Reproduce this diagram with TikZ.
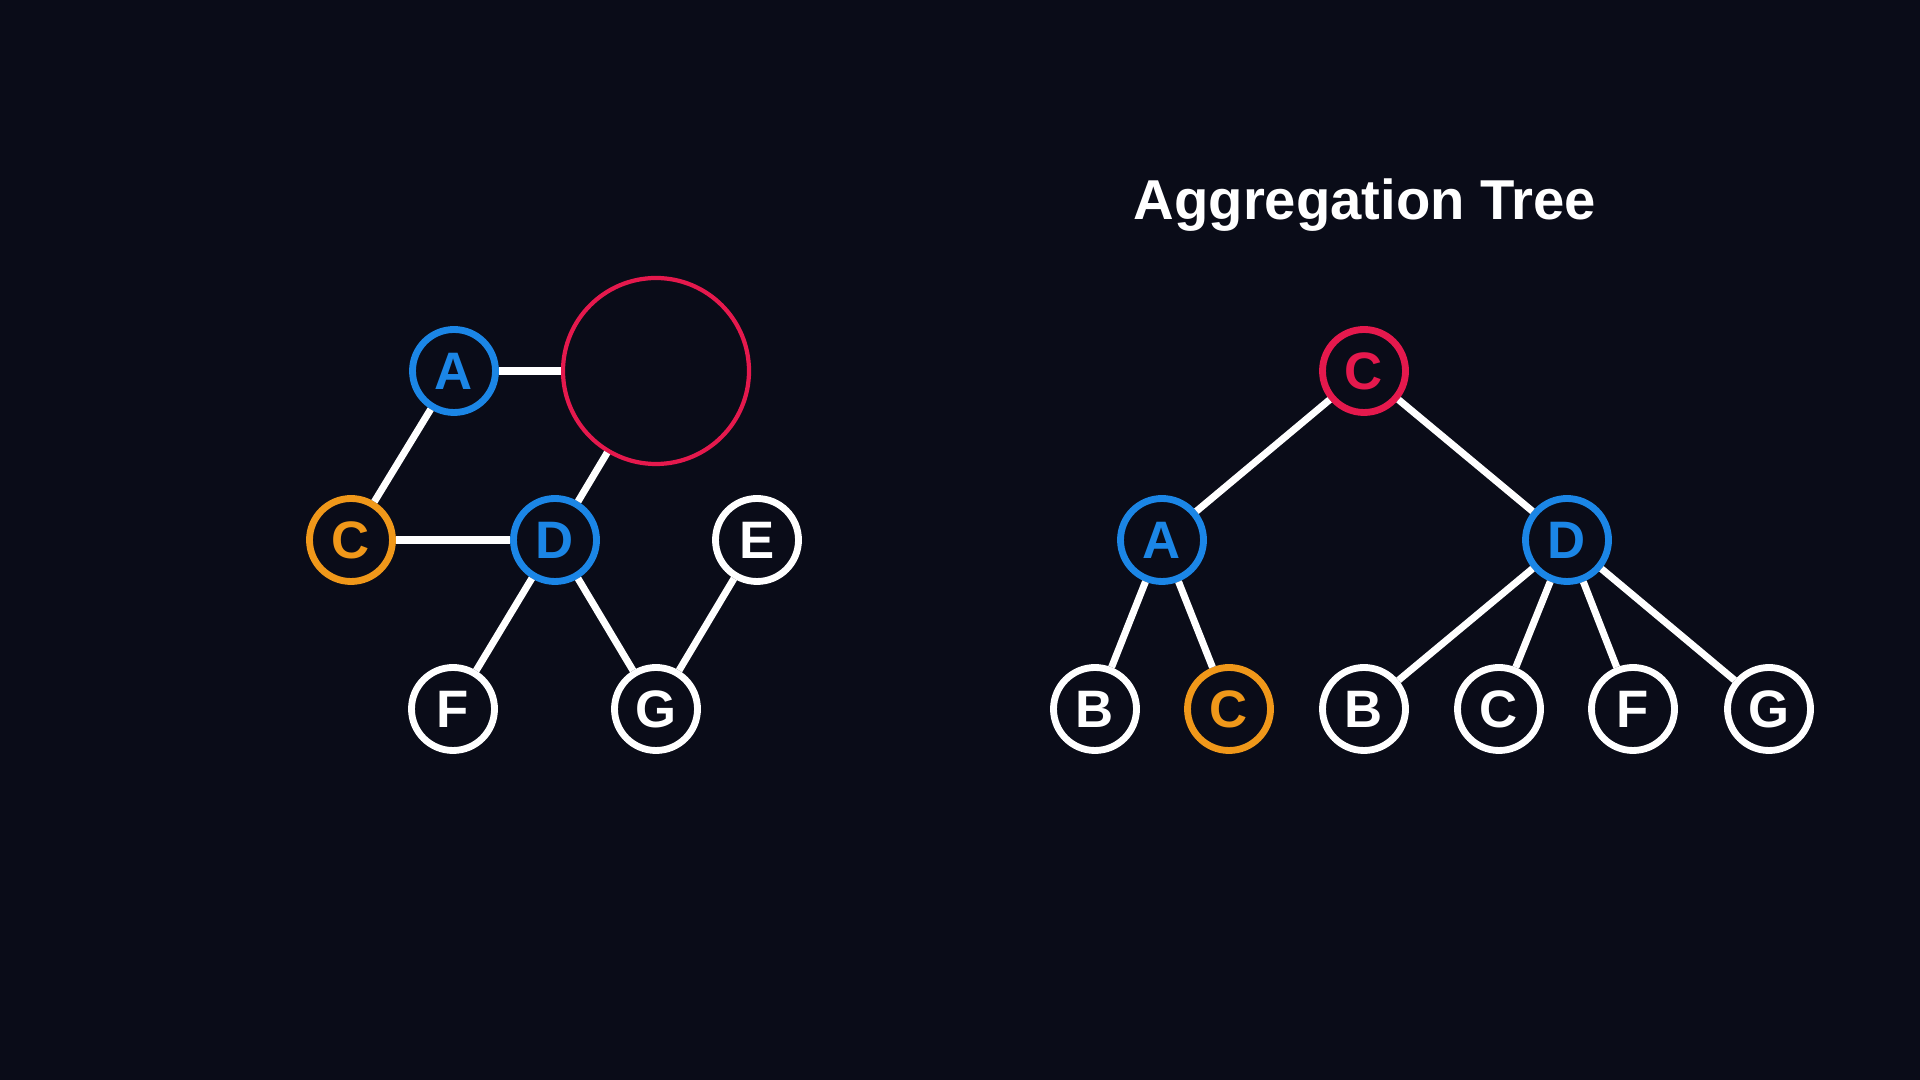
\documentclass[tikz,border=0pt]{standalone}
\usepackage{fontspec}
\setmainfont{Liberation Sans}
\usepackage{xcolor}
\usepackage{tikz}
\definecolor{bgnavy}{HTML}{0A0C18}
\definecolor{vblue}{HTML}{1B86E6}
\definecolor{vred}{HTML}{E5194D}
\definecolor{vorange}{HTML}{F0981A}

\begin{document}
\begin{tikzpicture}[
	vert/.style={circle, draw=white, line width=1.95pt, minimum size=0.83cm, inner sep=0pt, text=white, font=\fontsize{15}{15}\selectfont\bfseries},
	bluevert/.style={vert, draw=vblue, text=vblue},
	redvert/.style={vert, draw=vred, text=vred},
	orangevert/.style={vert, draw=vorange, text=vorange},
	link/.style={white, line width=2pt}
	]
	% Background and frame
	\fill[bgnavy] (0,0) rectangle (19.2,10.8);
	\useasboundingbox (0,0) rectangle (19.2,10.8);

	% Graph on the left
	\node[bluevert] (gA) at (4.54,7.09) {A};
	\node[circle, draw=vred, line width=1.2pt, minimum size=1.86cm, inner sep=0pt] (gX) at (6.56,7.09) {};
	\node[orangevert] (gC) at (3.51,5.40) {C};
	\node[bluevert] (gD) at (5.55,5.40) {D};
	\node[vert] (gE) at (7.57,5.40) {E};
	\node[vert] (gF) at (4.53,3.71) {F};
	\node[vert] (gG) at (6.56,3.71) {G};
	\draw[link] (gA) -- (gX);
	\draw[link] (gA) -- (gC);
	\draw[link] (gC) -- (gD);
	\draw[link] (gD) -- (gX);
	\draw[link] (gD) -- (gF);
	\draw[link] (gD) -- (gG);
	\draw[link] (gE) -- (gG);

	% Aggregation tree on the right
	\node[anchor=base, text=white, font=\fontsize{16}{16}\selectfont\bfseries] (title) at (13.65,8.60) {Aggregation Tree};
	\node[redvert] (tC) at (13.64,7.09) {C};
	\node[bluevert] (tA) at (11.62,5.40) {A};
	\node[bluevert] (tD) at (15.67,5.40) {D};
	\node[vert] (tAB) at (10.95,3.71) {B};
	\node[orangevert] (tAC) at (12.29,3.71) {C};
	\node[vert] (tDB) at (13.64,3.71) {B};
	\node[vert] (tDC) at (14.99,3.71) {C};
	\node[vert] (tDF) at (16.33,3.71) {F};
	\node[vert] (tDG) at (17.69,3.71) {G};
	\draw[link] (tC) -- (tA);
	\draw[link] (tC) -- (tD);
	\draw[link] (tA) -- (tAB);
	\draw[link] (tA) -- (tAC);
	\foreach \leaf in {tDB,tDC,tDF,tDG}
		\draw[link] (tD) -- (\leaf);
\end{tikzpicture}
\end{document}
